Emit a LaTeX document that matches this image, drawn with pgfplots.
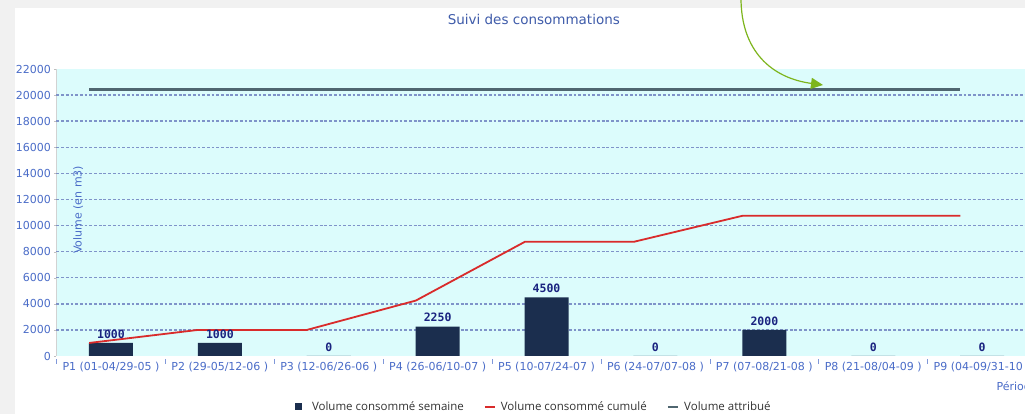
\documentclass[border=0pt]{standalone}
\usepackage{fontspec}
\setmainfont{DejaVu Sans}
\newfontfamily\legfont{Open Sans}
\newfontfamily\monofont{DejaVu Sans Mono}
\usepackage{pgfplots}
\pgfplotsset{compat=1.18}
\usetikzlibrary{arrows.meta}
\definecolor{bgcyan}{HTML}{DCFCFC}
\definecolor{navy}{HTML}{1B2E4E}
\definecolor{lblue}{HTML}{4A6CC8}
\definecolor{gridc}{HTML}{7F93C9}
\definecolor{redl}{HTML}{D92B2B}
\definecolor{slate}{HTML}{4F6670}
\definecolor{arrowg}{HTML}{7DB51C}
\definecolor{framegray}{HTML}{F1F1F1}
\definecolor{labnavy}{HTML}{1A2380}
\begin{document}
\begin{tikzpicture}
\fill[framegray] (-56.5pt,-58pt) rectangle (968.5pt,356pt);
\fill[white] (-41.5pt,-58pt) rectangle (968.5pt,348pt);
\begin{axis}[
  at={(0pt,0pt)}, anchor=south west,
  scale only axis, width=980.1pt, height=287pt,
  xmin=-0.5, xmax=8.5, ymin=0, ymax=22000,
  scaled y ticks=false,
  axis background/.style={fill=bgcyan},
  axis x line*=bottom, axis y line*=left,
  x axis line style={draw=none},
  y axis line style={draw=gray!35, -},
  xtick={0,...,8},
  xticklabels={P1 (01-04/29-05 ),P2 (29-05/12-06 ),P3 (12-06/26-06 ),P4 (26-06/10-07 ),P5 (10-07/24-07 ),P6 (24-07/07-08 ),P7 (07-08/21-08 ),P8 (21-08/04-09 ),P9 (04-09/31-10 )},
  major x tick style={draw=none},
  minor xtick={-0.5,0.5,...,8.5},
  minor x tick style={draw=lblue!70, line width=0.8pt, yshift=-3pt},
  minor tick length=5pt,
  tick align=outside,
  xticklabel style={font=\fontsize{11}{11}\selectfont, text=lblue, yshift=-1pt},
  ytick={0,2000,...,22000},
  major y tick style={draw=gray!50},
  major tick length=2pt,
  yticklabel style={font=\fontsize{11}{11}\selectfont, text=lblue},
  /pgf/number format/.cd, 1000 sep={}, assume math mode=true, /pgfplots/.cd,
  major grid style={draw=gridc, line width=1.4pt, dash pattern=on 2.8pt off 1.9pt},
  extra y ticks={2000,4000,...,20000},
  extra y tick labels={},
  extra y tick style={grid=major, major tick length=0pt},
  ylabel={Volume (en m3)},
  ylabel style={at={(rel axis cs:0.022,0.509)}, anchor=center, font=\fontsize{11}{11}\selectfont, text=lblue},
  title={Suivi des consommations},
  title style={at={(axis description cs:0.487,1)}, anchor=center, yshift=44pt, font=\fontsize{13.5}{13.5}\selectfont, text=lblue!85!black},
  legend columns=3,
  legend style={at={(rel axis cs:0.487,0)}, anchor=center, yshift=-51pt, draw=none, fill=none,
     font=\legfont\fontsize{11.5}{11.5}\selectfont, text=black!80,
     /tikz/every even column/.append style={column sep=18pt}},
  clip=false,
]
\addplot[ybar, bar width=44pt, fill=navy, draw=none,
  nodes near coords,
  every node near coord/.append style={font=\monofont\bfseries\fontsize{11.5}{11.5}\selectfont, text=labnavy, yshift=1pt},
  legend image code/.code={\fill[navy] (0pt,-3.5pt) rectangle (7pt,3.5pt); \path (15pt,0pt);}]
  coordinates {(0,1000) (1,1000) (2,0) (3,2250) (4,4500) (5,0) (6,2000) (7,0) (8,0)};
\addlegendentry{Volume consommé semaine}
\addplot[redl, line width=1.8pt, mark=none,
  legend image code/.code={\draw[redl, line width=2pt] (0pt,0pt) -- (10pt,0pt); \path (13pt,0pt);}]
  coordinates {(-0.2,1000) (0.8,2000) (1.8,2000) (2.8,4250) (3.8,8750) (4.8,8750) (5.8,10750) (6.8,10750) (7.8,10750)};
\addlegendentry{Volume consommé cumulé}
\addplot[slate, line width=2.8pt, mark=none,
  legend image code/.code={\draw[slate, line width=2pt] (0pt,0pt) -- (10pt,0pt); \path (13pt,0pt);}]
  coordinates {(-0.2,20400) (0.8,20400) (1.8,20400) (2.8,20400) (3.8,20400) (4.8,20400) (5.8,20400) (6.8,20400) (7.8,20400)};
\addlegendentry{Volume attribué}
\node[anchor=west, font=\fontsize{11}{11}\selectfont, text=lblue] at (rel axis cs:0,0) [xshift=936.5pt, yshift=-30pt] {Période};
\end{axis}
\draw[arrowg, line width=1.2pt, -{Triangle[length=12pt,width=11pt]}] (684.5pt,358pt) .. controls (684.5pt,305pt) and (715pt,278pt) .. (766.5pt,271pt);
\pgfresetboundingbox
\useasboundingbox (-56.5pt,-58pt) rectangle (968.5pt,356pt);
\end{tikzpicture}
\end{document}
